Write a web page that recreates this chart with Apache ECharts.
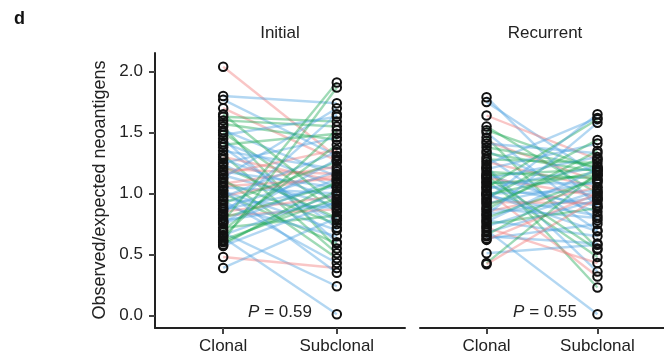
<!DOCTYPE html>
<html><head><meta charset="utf-8">
<script src="https://cdn.jsdelivr.net/npm/echarts@6/dist/echarts.min.js"></script>
<style>html,body{margin:0;padding:0;background:#fff}#c{width:664px;height:360px}</style>
</head><body><div id="c"></div>
<script>
const panelTitles = ['Initial', 'Recurrent'];
const categories = ['Clonal', 'Subclonal'];
const yTicks = [0, 0.5, 1, 1.5, 2];
const pValues = ['0.59', '0.55'];

// Initial panel: paired clonal / subclonal values, group colour key
const initClonal = [2.04,1.80,1.77,1.70,1.63,1.60,1.57,1.55,1.52,1.50,1.48,1.45,1.42,1.40,1.38,1.35,1.32,1.30,1.28,1.25,1.24,1.22,1.20,1.18,1.16,1.15,1.13,1.12,1.10,1.08,1.06,1.05,1.02,1.00,0.98,0.97,0.95,0.94,0.92,0.90,0.88,0.87,0.85,0.83,0.82,0.80,0.78,0.77,0.76,0.75,0.72,0.70,0.68,0.66,0.65,0.64,0.62,0.61,0.60,0.58,0.57,0.48,0.39,1.65,1.03];
const initSubclonal = [1.30,1.74,1.31,1.27,1.59,1.55,1.44,0.55,1.14,0.85,1.63,0.60,1.05,1.49,0.72,1.20,0.51,1.10,0.95,1.46,0.78,0.80,1.16,1.05,1.36,0.90,1.70,0.47,0.75,1.22,1.12,1.00,0.70,0.59,1.15,1.34,0.88,0.43,1.26,0.65,1.18,1.06,0.98,1.65,0.87,1.08,0.92,1.91,1.28,1.12,0.82,1.40,0.24,1.00,1.52,0.01,0.96,1.87,1.02,1.10,0.93,0.39,0.80,0.90,0.35];
const initGroup = ['R','B','B','R','G','G','G','G','B','G','B','B','B','G','B','B','G','R','B','B','B','G','R','B','R','B','B','G','G','R','R','B','B','G','R','B','B','B','G','B','B','B','R','B','R','G','B','G','B','B','G','G','B','B','G','B','G','G','G','G','B','R','B','G','B'];

// Recurrent panel
const recClonal = [1.79,1.75,1.64,1.55,1.52,1.50,1.46,1.43,1.41,1.38,1.35,1.33,1.30,1.28,1.26,1.24,1.22,1.21,1.20,1.18,1.16,1.15,1.13,1.12,1.10,1.09,1.08,1.06,1.05,1.04,1.02,1.00,0.99,0.98,0.96,0.95,0.93,0.92,0.90,0.88,0.87,0.85,0.83,0.82,0.80,0.78,0.77,0.75,0.73,0.72,0.70,0.68,0.66,0.65,0.63,0.62,0.51,0.43,0.42,1.00,1.14];
const recSubclonal = [0.89,1.15,1.28,1.00,1.20,0.78,0.55,1.10,1.33,1.22,0.95,1.18,0.70,1.25,1.05,1.62,0.36,0.23,1.41,1.12,0.85,1.20,0.98,1.30,0.48,1.08,1.15,0.90,1.61,1.22,0.32,1.02,1.18,0.82,1.44,1.65,0.92,1.10,1.28,0.80,1.35,1.05,0.97,1.58,1.12,0.65,1.20,0.88,1.02,0.43,0.01,0.95,1.15,0.59,0.75,1.00,0.58,1.17,0.96,0.69,0.54];
const recGroup = ['B','B','R','G','G','B','G','R','B','G','B','G','B','G','R','B','B','G','B','G','B','G','R','B','G','B','G','B','G','B','R','B','G','B','G','B','R','B','G','B','G','R','B','B','G','B','B','G','B','R','B','B','G','B','B','R','B','G','R','B','G'];

const groupColors = { R: '#F07878', G: '#1BA850', B: '#4A9FDF' };
const FONT = "'Liberation Sans', Arial, Helvetica, sans-serif";
const TEXT = '#222';

const panels = [
  { clonal: initClonal, sub: initSubclonal, group: initGroup },
  { clonal: recClonal, sub: recSubclonal, group: recGroup }
];

const yMin = -0.1025, yMax = 2.1525;
const grids = [
  { left: 155, top: 53, width: 250, height: 275 },
  { left: 420, top: 53, width: 250, height: 275 }
];

const xAxes = grids.map((g, i) => ({
  type: 'value', gridIndex: i, min: 0.4, max: 2.6,
  axisLine: { show: true, onZero: false, lineStyle: { color: '#222', width: 2 } },
  axisTick: { show: true, customValues: [1, 2], length: 6, lineStyle: { color: '#444', width: 2 } },
  axisLabel: { customValues: [1, 2], formatter: v => categories[Math.round(v) - 1] || '',
    fontSize: 17, fontFamily: FONT, color: TEXT, margin: 10 },
  splitLine: { show: false }
}));

const yAxes = grids.map((g, i) => ({
  type: 'value', gridIndex: i, min: yMin, max: yMax,
  show: i === 0,
  axisLine: { show: true, onZero: false, lineStyle: { color: '#222', width: 2 } },
  axisTick: { show: true, customValues: yTicks, length: 6, lineStyle: { color: '#444', width: 2 } },
  axisLabel: { customValues: yTicks, formatter: v => v.toFixed(1),
    fontSize: 17, fontFamily: FONT, color: TEXT, margin: 12 },
  splitLine: { show: false }
}));

const series = [];
panels.forEach((p, pi) => {
  p.clonal.forEach((c, i) => {
    series.push({
      type: 'line', xAxisIndex: pi, yAxisIndex: pi, silent: true, animation: false,
      symbol: 'none', z: 1,
      data: [[1, c], [2, p.sub[i]]],
      lineStyle: { color: groupColors[p.group[i]], width: 2.4, opacity: 0.42 }
    });
  });
  series.push({
    type: 'scatter', xAxisIndex: pi, yAxisIndex: pi, animation: false, z: 5,
    symbol: 'circle', symbolSize: 8.5,
    itemStyle: { color: 'rgba(0,0,0,0)', borderColor: '#111', borderWidth: 2, opacity: 1 },
    data: p.clonal.map(v => [1, v]).concat(p.sub.map(v => [2, v]))
  });
});

const graphic = [
  { type: 'text', x: 14, y: 19, style: { text: 'd', font: 'bold 18px ' + FONT, fill: '#111', textAlign: 'left', textVerticalAlign: 'middle' } },
  { type: 'text', x: 100, y: 190, rotation: Math.PI / 2,
    style: { text: 'Observed/expected neoantigens', font: '18px ' + FONT, fill: TEXT, textAlign: 'center', textVerticalAlign: 'middle' } }
];
grids.forEach((g, i) => {
  const cx = g.left + g.width / 2;
  graphic.push({ type: 'text', x: cx, y: 33,
    style: { text: panelTitles[i], font: '17px ' + FONT, fill: TEXT, textAlign: 'center', textVerticalAlign: 'middle' } });
  graphic.push({ type: 'text', x: cx, y: 312,
    style: { text: '{i|P} = ' + pValues[i], font: '17px ' + FONT, fill: TEXT, textAlign: 'center', textVerticalAlign: 'middle',
      rich: { i: { fontStyle: 'italic', fontSize: 17, fontFamily: FONT, color: TEXT } } } });
});

const chart = echarts.init(document.getElementById('c'), null, { renderer: 'canvas' });
chart.setOption({
  animation: false,
  backgroundColor: '#fff',
  grid: grids,
  xAxis: xAxes,
  yAxis: yAxes,
  series: series,
  graphic: graphic
});
</script>
</body></html>
